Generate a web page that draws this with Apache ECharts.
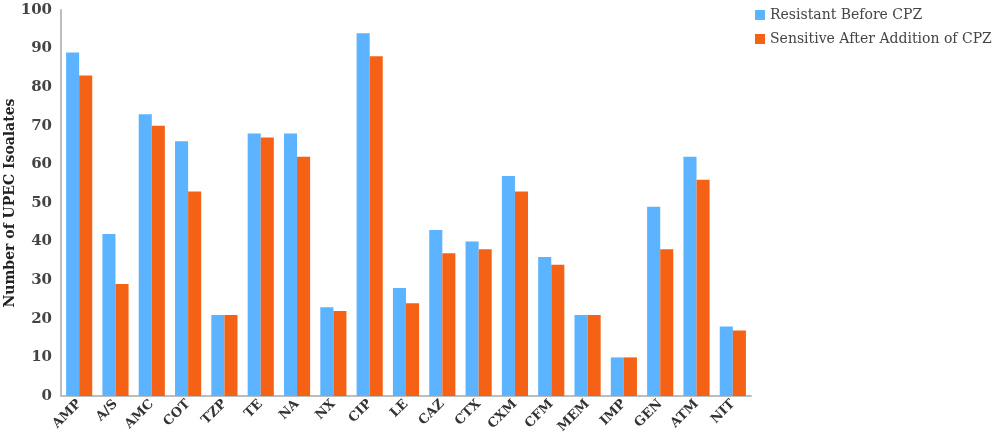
<!DOCTYPE html>
<html><head><meta charset="utf-8">
<script src="https://cdn.jsdelivr.net/npm/echarts@6/dist/echarts.min.js"></script>
<style>html,body{margin:0;padding:0;background:#fff}#c{width:1000px;height:447px}</style>
</head><body><div id="c"></div>
<script>
var categories = ["AMP","A/S","AMC","COT","TZP","TE","NA","NX","CIP","LE","CAZ","CTX","CXM","CFM","MEM","IMP","GEN","ATM","NIT"];
var resistantBefore = [89,42,73,66,21,68,68,23,94,28,43,40,57,36,21,10,49,62,18];
var sensitiveAfter = [83,29,70,53,21,67,62,22,88,24,37,38,53,34,21,10,38,56,17];
var yTicks = {min:0, max:100, interval:10};
var font = "DejaVu Serif";
var chart = echarts.init(document.getElementById('c'));
chart.setOption({
  animation:false,
  grid:{left:61, right:249, top:10, bottom:51, containLabel:false, outerBoundsMode:'none'},
  legend:{orient:'vertical', left:750, top:3, itemWidth:10, itemHeight:10, itemGap:10,
    icon:'rect',
    textStyle:{fontFamily:font, fontSize:14, color:'#444'},
    data:['Resistant Before CPZ','Sensitive After Addition of CPZ']},
  xAxis:{type:'category', data:categories,
    axisLine:{lineStyle:{color:'#bdbdbd', width:2}},
    axisTick:{show:false},
    axisLabel:{rotate:45, interval:0, margin:6, fontFamily:font, fontSize:13, fontWeight:'bold', color:'#333'}},
  yAxis:{type:'value', min:yTicks.min, max:yTicks.max, interval:yTicks.interval,
    name:'Number of UPEC Isoalates', nameLocation:'middle', nameGap:44, nameMoveOverlap:false,
    nameTextStyle:{fontFamily:font, fontSize:14, fontWeight:'bold', color:'#222'},
    axisLine:{show:true, lineStyle:{color:'#bdbdbd', width:2}},
    axisTick:{show:false}, splitLine:{show:false},
    axisLabel:{fontFamily:font, fontSize:15, fontWeight:'bold', color:'#444', margin:9}},
  series:[
    {name:'Resistant Before CPZ', type:'bar', data:resistantBefore, barGap:'0%', barCategoryGap:'28%', itemStyle:{color:'#5cb3ff'}},
    {name:'Sensitive After Addition of CPZ', type:'bar', data:sensitiveAfter, itemStyle:{color:'#f66215'}}
  ]
});
</script></body></html>
